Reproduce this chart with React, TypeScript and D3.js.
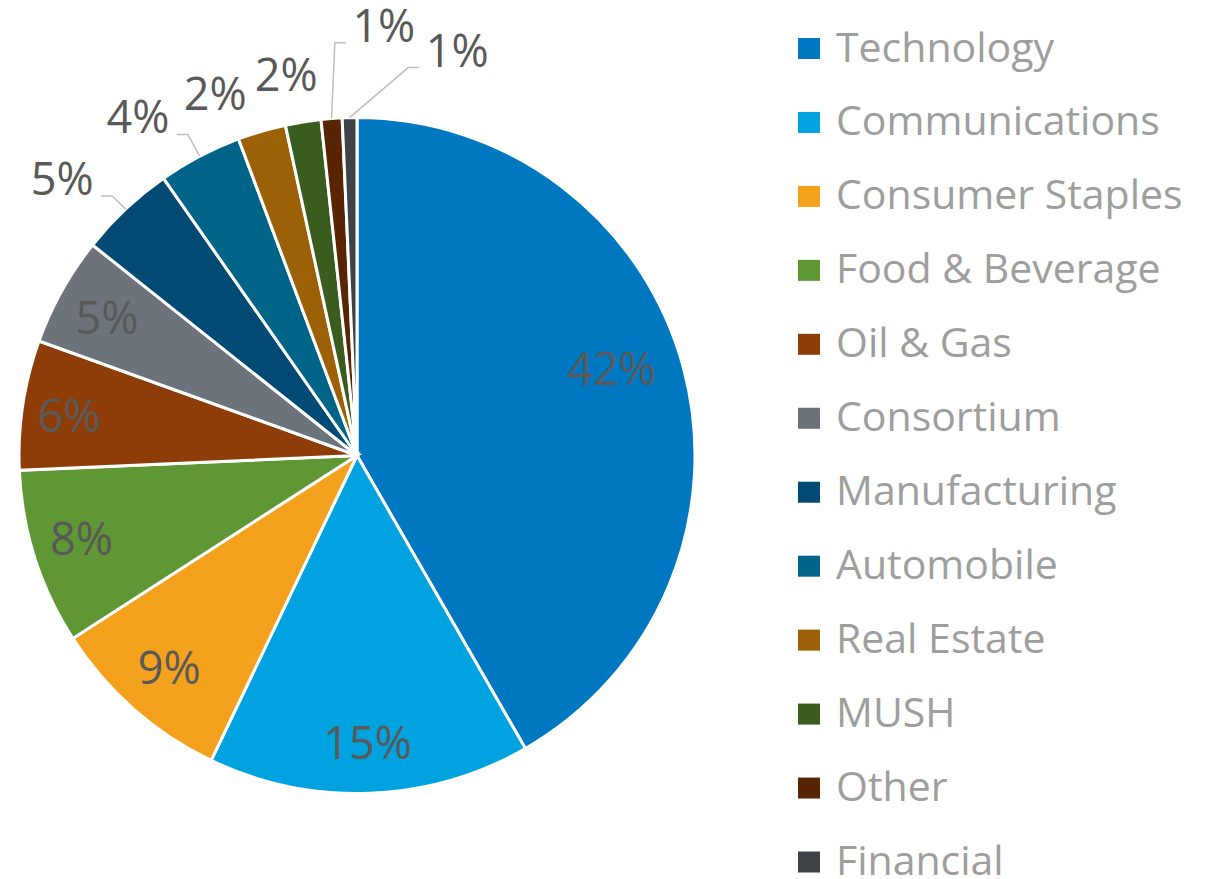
import React from 'react'
import * as d3 from 'd3'

const categories = [
  'Technology',
  'Communications',
  'Consumer Staples',
  'Food & Beverage',
  'Oil & Gas',
  'Consortium',
  'Manufacturing',
  'Automobile',
  'Real Estate',
  'MUSH',
  'Other',
  'Financial',
]
const shares = [41.7, 15.4, 8.8, 8.4, 6.2, 5.2, 4.6, 4.0, 2.3, 1.7, 1.0, 0.7]
const colors = [
  '#0078C1',
  '#00A3E0',
  '#F4A11D',
  '#5F9734',
  '#8F3D08',
  '#6C737B',
  '#004A74',
  '#006489',
  '#9C6106',
  '#3A5D1F',
  '#582401',
  '#3D4347',
]

// label layout: inside slice or outside, small nudges like Excel's best fit
const labelLayout = [
  { inside: true, nudge: [-20, -13], leader: false },
  { inside: true, nudge: [0, 4], leader: false },
  { inside: true, nudge: [0, 0], leader: false },
  { inside: true, nudge: [-5, -3], leader: false },
  { inside: true, nudge: [-7, 3], leader: false },
  { inside: true, nudge: [-2, 1], leader: false },
  { inside: false, nudge: [-21, 15], leader: true },
  { inside: false, nudge: [-33, 16], leader: true },
  { inside: false, nudge: [-29, 22], leader: false },
  { inside: false, nudge: [-7, 14], leader: false },
  { inside: false, nudge: [57, -31], leader: true },
  { inside: false, nudge: [109, -5], leader: true },
]

const W = 1210
const H = 879
const cx = 357
const cy = 455.5
const R = 338
const font = "'Open Sans', 'Noto Sans', sans-serif"

export default function App() {
  const total = d3.sum(shares)
  const pie = d3.pie<number>().sort(null).value(d => d)
  const arcs = pie(shares)
  const arc = d3.arc<d3.PieArcDatum<number>>().innerRadius(0).outerRadius(R)
  const polar = (r: number, a: number) => [cx + r * Math.sin(a), cy - r * Math.cos(a)]

  const legendY = d3.scalePoint<string>().domain(categories).range([48.5, 862])

  return (
    <svg
      width={W}
      height={H}
      style={{ position: 'absolute', left: 0, top: 0, background: '#fff' }}
    >
      <g transform={`translate(${cx},${cy})`}>
        {arcs.map((a, i) => (
          <path key={i} d={arc(a) || ''} fill={colors[i]} stroke="#fff" strokeWidth={3} />
        ))}
      </g>
      {arcs.map((a, i) => {
        const mid = (a.startAngle + a.endAngle) / 2
        const lay = labelLayout[i]
        const base = polar(lay.inside ? R * 0.84 : 400, mid)
        const lx = base[0] + lay.nudge[0]
        const ly = base[1] + lay.nudge[1]
        const txt = Math.round((shares[i] / total) * 100) + '%'
        let leader = null
        if (lay.leader) {
          const left = lx < cx
          const sx = left ? lx + 39 : lx - 38
          const sy = ly + 17
          const ex = left ? sx + 11 : sx - 11
          const end = polar(R, mid)
          leader = (
            <polyline
              points={`${sx},${sy} ${ex},${sy} ${end[0]},${end[1]}`}
              fill="none"
              stroke="#BFBFBF"
              strokeWidth={1.5}
            />
          )
        }
        return (
          <g key={'l' + i}>
            {leader}
            <text
              x={lx}
              y={ly + 16}
              textAnchor="middle"
              fontFamily={font}
              fontSize={45}
              fill="#595959"
            >
              {txt}
            </text>
          </g>
        )
      })}
      <g>
        {categories.map((c, i) => (
          <g key={c} transform={`translate(798,${legendY(c)})`}>
            <rect x={0} y={-10.5} width={22} height={21} fill={colors[i]} />
            <text x={38} y={13} fontFamily={font} fontSize={41} fill="#9E9E9E">
              {c}
            </text>
          </g>
        ))}
      </g>
    </svg>
  )
}
